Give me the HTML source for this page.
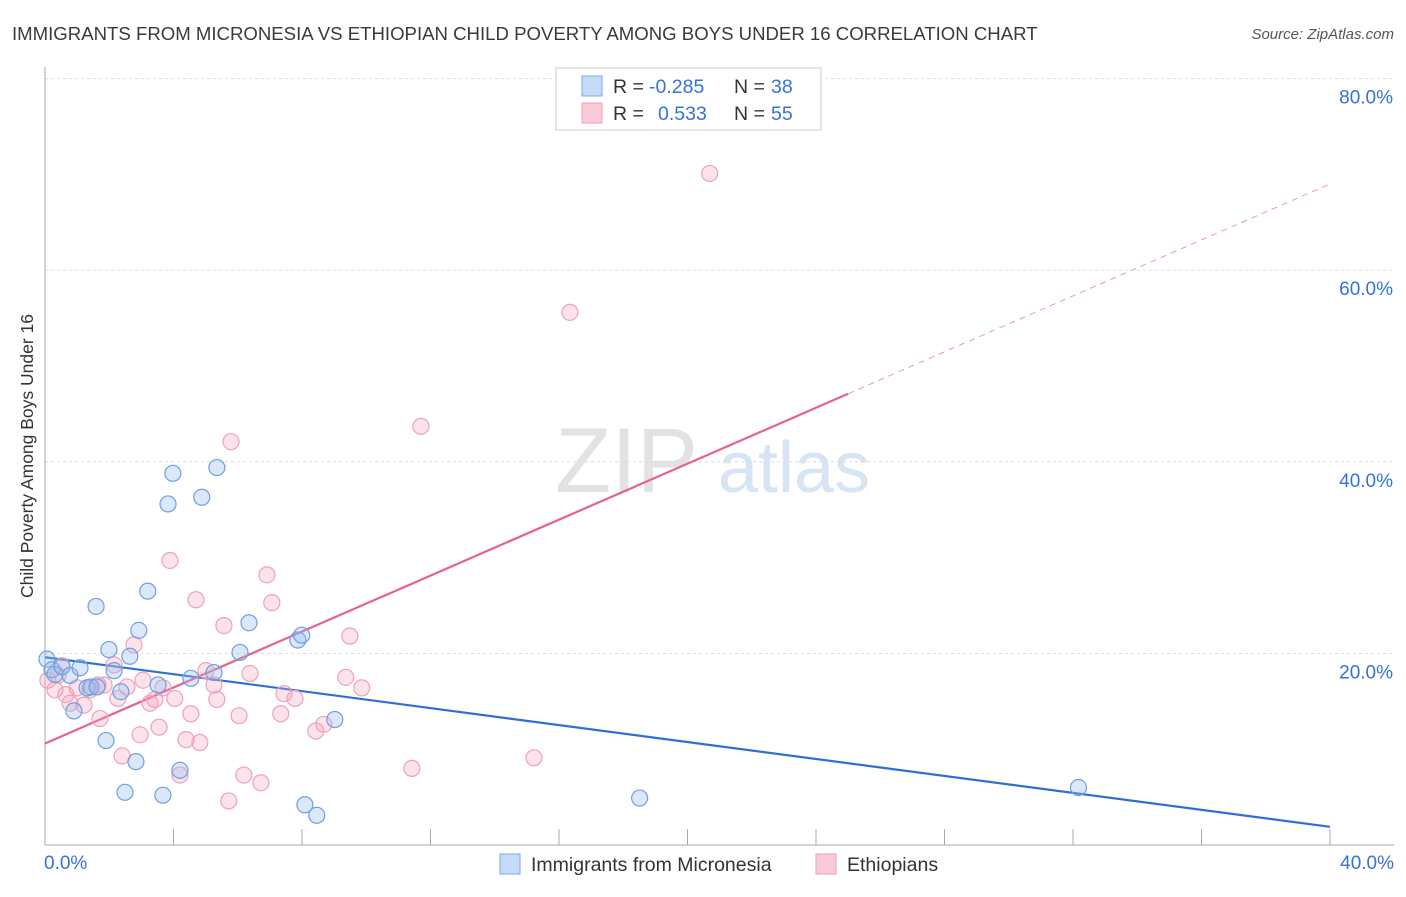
<!DOCTYPE html>
<html><head><meta charset="utf-8"><style>
body{margin:0;background:#fff;font-family:"Liberation Sans",sans-serif;}
svg text{font-family:"Liberation Sans",sans-serif;}
</style></head><body>
<svg id="chart" width="1406" height="892">
<text x="12" y="40" font-size="18.6" fill="#3a3a3a">IMMIGRANTS FROM MICRONESIA VS ETHIOPIAN CHILD POVERTY AMONG BOYS UNDER 16 CORRELATION CHART</text>
<text x="1394" y="39" font-size="15" fill="#555" text-anchor="end" font-style="italic">Source: ZipAtlas.com</text>
<text x="33" y="456" font-size="17.5" fill="#333" text-anchor="middle" transform="rotate(-90 33 456)">Child Poverty Among Boys Under 16</text>
<g>
<text x="555" y="492" font-size="92" fill="#e2e2e2" font-family="Liberation Serif">ZIP</text>
<text x="718" y="492" font-size="72" fill="#d6e4f4">atlas</text>
</g>
<g id="grid"></g><g id="axes"></g><g id="lines"></g><g id="pts"></g>
<g>
<rect x="556" y="68" width="265" height="62" fill="#fff" stroke="#ccc"/>
<rect x="582" y="76" width="20" height="20" fill="#c6dbf7" stroke="#7aa8e8"/>
<rect x="582" y="103" width="20" height="20" fill="#f9cad8" stroke="#ee9db7"/>
<text x="613" y="93" font-size="19.5" fill="#333">R =</text>
<text x="649" y="93" font-size="19.5" fill="#3672d6">-0.285</text>
<text x="734" y="93" font-size="19.5" fill="#333">N =</text>
<text x="771" y="93" font-size="19.5" fill="#3672d6">38</text>
<text x="613" y="120" font-size="19.5" fill="#333">R =</text>
<text x="658" y="120" font-size="19.5" fill="#3672d6">0.533</text>
<text x="734" y="120" font-size="19.5" fill="#333">N =</text>
<text x="771" y="120" font-size="19.5" fill="#3672d6">55</text>
</g>
<g>
<rect x="500" y="854" width="20" height="20" fill="#c6dbf7" stroke="#7aa8e8"/>
<text x="531" y="871" font-size="19.5" fill="#333">Immigrants from Micronesia</text>
<rect x="816" y="854" width="20" height="20" fill="#f9cad8" stroke="#ee9db7"/>
<text x="847" y="871" font-size="19.5" fill="#333">Ethiopians</text>
</g>
</svg>
<script>
const yTicks=[20,40,60,80];
const blueX=[0.06,0.22,0.31,0.53,0.78,1.09,0.9,1.31,1.43,1.62,1.59,1.9,1.99,2.15,2.36,2.49,2.64,2.83,2.92,3.2,3.52,3.67,3.83,3.98,4.2,4.54,4.88,5.26,5.35,6.07,6.35,7.87,7.99,8.09,8.46,9.02,18.51,32.17];
const blueY=[19.4,18.3,17.8,18.6,17.7,18.5,14.0,16.4,16.5,16.5,24.9,10.9,20.4,18.2,16.0,5.5,19.7,8.7,22.4,26.5,16.7,5.2,35.6,38.8,7.8,17.4,36.3,18.0,39.4,20.1,23.2,21.4,21.9,4.2,3.1,13.1,4.9,6.0];
const pinkX=[0.09,0.31,0.4,0.53,0.65,0.78,1.0,1.21,1.4,1.65,1.71,1.84,2.15,2.27,2.4,2.55,2.77,2.96,3.05,3.27,3.42,3.55,3.67,3.89,4.04,4.2,4.39,4.54,4.7,4.82,5.01,5.26,5.35,5.57,5.72,5.79,6.04,6.19,6.38,6.72,6.91,7.06,7.34,7.44,7.78,8.43,8.68,9.36,9.49,9.86,11.42,11.7,15.22,16.34,20.69];
const pinkY=[17.2,16.2,17.7,18.7,15.7,14.8,16.4,14.6,16.2,16.7,13.2,16.7,18.8,15.3,9.3,16.5,20.9,11.5,17.2,14.8,15.2,12.3,16.4,29.7,15.3,7.3,11.0,13.7,25.6,10.7,18.2,16.7,15.2,22.9,4.6,42.1,13.5,7.3,17.9,6.5,28.2,25.3,13.7,15.8,15.3,11.9,12.6,17.5,21.8,16.4,8.0,43.7,9.1,55.6,70.1];
const blueLine=[19.6,1.9];
const pinkLine=[10.6,47.1,69.0];
const X=v=>45+v*32.125, Y=v=>845-v*9.58;
const NS="http://www.w3.org/2000/svg";
function mk(p,t,a){const e=document.createElementNS(NS,t);for(const k in a)e.setAttribute(k,a[k]);document.getElementById(p).appendChild(e);return e;}
yTicks.forEach(t=>{
 const g=mk('grid','line',{x1:45,x2:1394,y1:Y(t),y2:Y(t),stroke:'#ddd','stroke-dasharray':'3,3'});
 
 
 const l=mk('grid','text',{x:1393,y:Y(t)+25,'font-size':19,fill:'#3672d6','text-anchor':'end'});l.textContent=t.toFixed(1)+'%';
 
 
});
const ax=mk('axes','line',{x1:45,x2:45,y1:67,y2:845,stroke:'#aaa'});


const bx=mk('axes','line',{x1:45,x2:1394,y1:845,y2:845,stroke:'#aaa'});


for(let i=0;i<=10;i++){const t=mk('axes','line',{x1:X(i*4),x2:X(i*4),y1:829,y2:845,stroke:'#aaa'});
 
 }
[[0,'0.0%',44,'start'],[40,'40.0%',1394,'end']].forEach(d=>{const t=mk('axes','text',{x:d[2],y:869,'font-size':19,fill:'#3672d6','text-anchor':d[3]});t.textContent=d[1];
 
 });
const bl=mk('lines','line',{x1:X(0),y1:Y(blueLine[0]),x2:X(40),y2:Y(blueLine[1]),stroke:'#2e6fd6','stroke-width':2.2});


const pl=mk('lines','line',{x1:X(0),y1:Y(pinkLine[0]),x2:X(25),y2:Y(pinkLine[1]),stroke:'#e4628c','stroke-width':2.2});


const pd=mk('lines','line',{x1:X(25),y1:Y(pinkLine[1]),x2:X(40),y2:Y(pinkLine[2]),stroke:'#e89ab3','stroke-width':1,'stroke-dasharray':'6,5'});


pinkX.forEach((x,i)=>{const c=mk('pts','circle',{cx:X(x),cy:Y(pinkY[i]),r:8,fill:'rgba(244,160,190,0.3)',stroke:'#eea2ba','stroke-width':1.2});
 
 });
blueX.forEach((x,i)=>{const c=mk('pts','circle',{cx:X(x),cy:Y(blueY[i]),r:8,fill:'rgba(150,190,240,0.35)',stroke:'#6f9fe0','stroke-width':1.2});
 
 });
</script>
</body></html>
